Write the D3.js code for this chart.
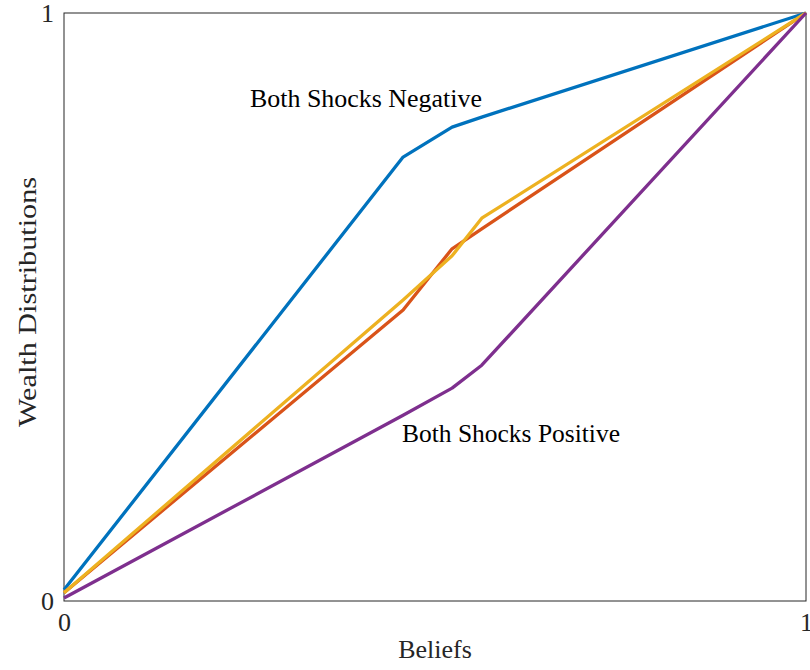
<!DOCTYPE html>
<html>
<head>
<meta charset="utf-8">
<script src="https://cdn.jsdelivr.net/npm/d3@7"></script>
<style>
  body { margin: 0; background: #fff; }
  svg { display: block; }
  .tick text { font-family: "Liberation Serif", serif; font-size: 26px; fill: #262626; }
</style>
</head>
<body>
<div id="chart"></div>
<script>
// data
var beliefs  = [0, 0.457, 0.523, 0.563, 1];
var negative = [0.019, 0.755, 0.806, 0.823, 1];   // both shocks negative
var mixedA   = [0.014, 0.495, 0.599, 0.633, 1];
var mixedB   = [0.014, 0.512, 0.587, 0.651, 1];
var positive = [0.005, 0.316, 0.362, 0.401, 1];   // both shocks positive
var xTicks = [0, 1],
    yTicks = [0, 1];

var series = [
  {name: "neg", y: negative, color: "#0072BD"},
  {name: "a",   y: mixedA,   color: "#D95319"},
  {name: "b",   y: mixedB,   color: "#EDB120"},
  {name: "pos", y: positive, color: "#7E2F8E"}
];

var width = 810,
    height = 670,
    plotL = 64, plotR = 806,
    plotT = 13, plotB = 601;

var svg = d3.select("#chart").append("svg")
    .attr("width", width)
    .attr("height", height);

var x = d3.scaleLinear().domain([0, 1]).range([plotL, plotR]);
var y = d3.scaleLinear().domain([0, 1]).range([plotB, plotT]);

// box
svg.append("rect")
    .attr("x", plotL)
    .attr("y", plotT)
    .attr("width", plotR - plotL)
    .attr("height", plotB - plotT)
    .attr("fill", "none")
    .attr("stroke", "#262626")
    .attr("stroke-width", 1);

// axes (ticks sit on the corners, only labels show)
var xAxis = svg.append("g")
    .attr("transform", "translate(0," + plotB + ")")
    .call(d3.axisBottom(x).tickValues(xTicks).tickFormat(d3.format("d")).tickSize(0).tickPadding(12));
var yAxis = svg.append("g")
    .attr("transform", "translate(" + plotL + ",0)")
    .call(d3.axisLeft(y).tickValues(yTicks).tickFormat(d3.format("d")).tickSize(0).tickPadding(10));
xAxis.select(".domain").remove();
yAxis.select(".domain").remove();

// lines
var line = d3.line()
    .x(function(d){ return x(d[0]); })
    .y(function(d){ return y(d[1]); });

svg.selectAll(".series")
    .data(series)
  .enter()
    .append("path")
    .attr("class", "series")
    .attr("fill", "none")
    .attr("stroke", function(d){ return d.color; })
    .attr("stroke-width", 3.3)
    .attr("stroke-linejoin", "round")
    .attr("d", function(d){
        return line(beliefs.map(function(b, i){ return [b, d.y[i]]; }));
    });

// annotations
svg.append("text")
    .attr("x", 250)
    .attr("y", 107)
    .attr("textLength", 232)
    .attr("lengthAdjust", "spacingAndGlyphs")
    .style("font-family", "Liberation Serif, serif")
    .style("font-size", "25px")
    .text("Both Shocks Negative");

svg.append("text")
    .attr("x", 402)
    .attr("y", 442)
    .attr("textLength", 218)
    .attr("lengthAdjust", "spacingAndGlyphs")
    .style("font-family", "Liberation Serif, serif")
    .style("font-size", "25px")
    .text("Both Shocks Positive");

// axis titles
svg.append("text")
    .attr("x", 435)
    .attr("y", 658)
    .attr("text-anchor", "middle")
    .attr("fill", "#262626")
    .style("font-family", "Liberation Serif, serif")
    .style("font-size", "26px")
    .text("Beliefs");

svg.append("text")
    .attr("transform", "translate(36,302) rotate(-90)")
    .attr("text-anchor", "middle")
    .attr("textLength", 250)
    .attr("lengthAdjust", "spacingAndGlyphs")
    .attr("fill", "#262626")
    .style("font-family", "Liberation Serif, serif")
    .style("font-size", "26px")
    .text("Wealth Distributions");
</script>
</body>
</html>
